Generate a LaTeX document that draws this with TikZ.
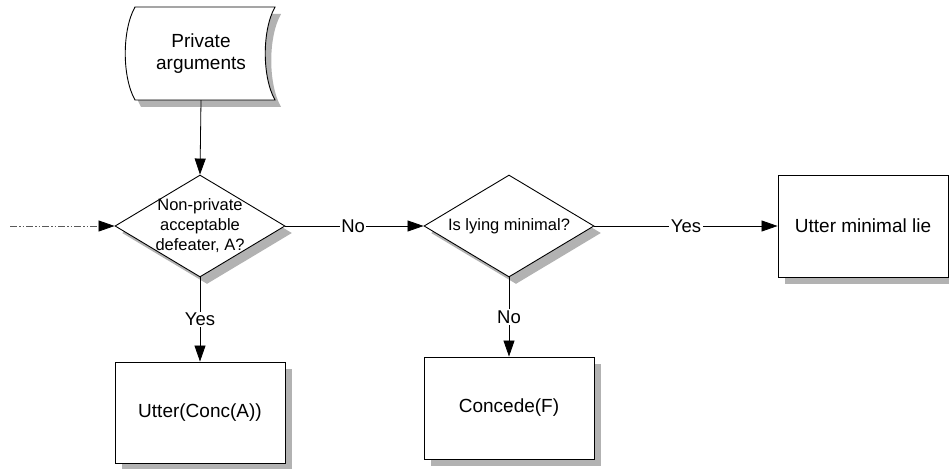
\documentclass[tikz,border=0pt]{standalone}
\usepackage{fontspec}
\setmainfont{Liberation Sans}
\usetikzlibrary{shapes.geometric,arrows.meta,shadows}
\begin{document}
\begin{tikzpicture}[x=1pt,y=-1pt,
  shade7/.style={drop shadow={shadow xshift=7pt,shadow yshift=-7pt,fill=black!30,opacity=1}},
  procbox/.style={draw=black,line width=0.9pt,fill=white,rectangle,minimum width=170pt,minimum height=102pt,inner sep=0pt,font=\fontsize{19}{22}\selectfont,shade7},
  decision/.style={draw=black,line width=0.9pt,fill=white,diamond,minimum width=170pt,minimum height=102pt,inner sep=0pt,shade7},
  dtext/.style={font=\fontsize{16.5}{20}\selectfont,align=center,inner sep=0pt},
  lab/.style={fill=white,inner sep=1.5pt,font=\fontsize{18.5}{22}\selectfont},
  flow/.style={line width=0.8pt,-{Triangle[length=16pt,width=11pt,color=black]}},
  plain/.style={line width=0.8pt}]
\useasboundingbox (0,0) rectangle (949,468);

% stored data shape
\fill[black!30,shift={(6pt,-7pt)}] (135,7) -- (275,7) .. controls (262,30) and (262,77) .. (275,100) -- (135,100) .. controls (122,77) and (122,30) .. (135,7) -- cycle;
\draw[line width=0.9pt,fill=white] (135,7) -- (275,7) .. controls (262,30) and (262,77) .. (275,100) -- (135,100) .. controls (122,77) and (122,30) .. (135,7) -- cycle;
\node[align=center,inner sep=0pt,minimum height=93pt,font=\fontsize{19}{22}\selectfont] (pa) at (201,53.5) {Private\\arguments};

% decisions
\node[decision,label={[dtext]center:Non-private\\acceptable\\defeater, A?}] (d1) at (200,226) {};
\node[decision,label={[dtext]center:Is lying minimal?}] (d2) at (509,226) {};

% process boxes
\node[procbox] (lie) at (863,226) {Utter minimal lie};
\node[procbox,minimum height=101pt] (utter) at (200,412.5) {Utter(Conc(A))};
\node[procbox] (concede) at (509,408) {Concede(F)};

\coordinate (in) at (10,226);

% connectors
\draw[flow] (pa.south) -- (d1.north);
\draw[flow,draw=black!65,dash pattern=on 7pt off 2pt on 1.5pt off 2pt on 1.5pt off 2pt] (in) -- (d1.west);
\draw[flow] (d1.east) -- node[lab,pos=0.49]{No} (d2.west);
\draw[flow] (d2.east) -- node[lab]{Yes} (lie.west);
\draw[flow] (d1.south) -- node[lab]{Yes} (utter.north);
\draw[flow] (d2.south) -- node[lab]{No} (concede.north);
\end{tikzpicture}
\end{document}
